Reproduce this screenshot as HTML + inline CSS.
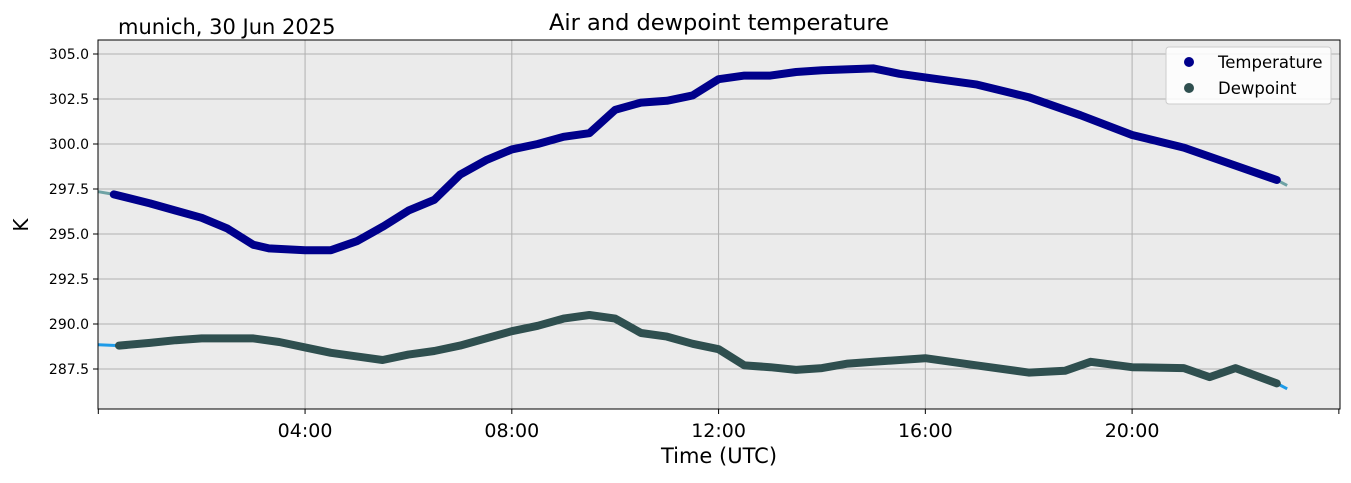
<!DOCTYPE html>
<html><head><meta charset="utf-8"><style>
body{margin:0;background:#fff;width:1351px;height:478px;overflow:hidden;font-family:"Liberation Sans","DejaVu Sans",sans-serif}
</style></head><body>
<svg id="chart" width="1351" height="478" xmlns="http://www.w3.org/2000/svg" font-family="DejaVu Sans, Liberation Sans, sans-serif">
<rect x="98" y="40" width="1242" height="369" fill="#ebebeb"/>
<g id="grid"></g>
<g id="series"></g>
<rect x="98" y="40" width="1242" height="369" fill="none" stroke="#000" stroke-width="1"/>
<g id="axes"></g>
<text x="719" y="30" font-size="22.5" text-anchor="middle">Air and dewpoint temperature</text>
<text x="118" y="34" font-size="21">munich, 30 Jun 2025</text>
<text x="719" y="463" font-size="21" text-anchor="middle">Time (UTC)</text>
<text x="28" y="225" font-size="20" text-anchor="middle" transform="rotate(-90 28 225)">K</text>
<g>
<rect x="1166" y="47" width="165" height="57" rx="3" fill="#fff" fill-opacity="0.85" stroke="#ccc"/>
<circle cx="1189" cy="62" r="5" fill="#00008b"/>
<text x="1218" y="68" font-size="16.5">Temperature</text>
<circle cx="1189" cy="88" r="5" fill="#2f4f4f"/>
<text x="1218" y="94" font-size="16.5">Dewpoint</text>
</g>
</svg>
<script>
const tempHours=[0.3,1,1.5,2,2.5,3,3.3,4,4.5,5,5.5,6,6.5,7,7.5,8,8.5,9,9.5,10,10.5,11,11.5,12,12.5,13,13.5,14,15,15.5,16,17,18,19,20,21,22,22.8];
const tempValues=[297.2,296.7,296.3,295.9,295.3,294.4,294.2,294.1,294.1,294.6,295.4,296.3,296.9,298.3,299.1,299.7,300.0,300.4,300.6,301.9,302.3,302.4,302.7,303.6,303.8,303.8,304.0,304.1,304.2,303.9,303.7,303.3,302.6,301.6,300.5,299.8,298.8,298.0];
const dewHours=[0.4,1,1.5,2,3,3.5,4,4.5,5,5.5,6,6.5,7,7.5,8,8.5,9,9.5,10,10.5,11,11.5,12,12.5,13,13.5,14,14.5,15,16,17,18,18.7,19.2,20,21,21.5,22,22.8];
const dewValues=[288.8,288.95,289.1,289.2,289.2,289.0,288.7,288.4,288.2,288.0,288.3,288.5,288.8,289.2,289.6,289.9,290.3,290.5,290.3,289.5,289.3,288.9,288.6,287.7,287.6,287.45,287.55,287.8,287.9,288.1,287.7,287.3,287.4,287.9,287.6,287.55,287.05,287.55,286.7];
const yTicks=[287.5,290.0,292.5,295.0,297.5,300.0,302.5,305.0];
const xTicks=[4,8,12,16,20];
const xTickLabels=["04:00","08:00","12:00","16:00","20:00"];
const X0=98.3,XPH=51.69,Y305=54,YPK=18;
const xs=h=>X0+h*XPH, ys=v=>Y305+(305-v)*YPK;
const NS="http://www.w3.org/2000/svg";
function mk(tag,attrs,parent){const e=document.createElementNS(NS,tag);for(const k in attrs)e.setAttribute(k,attrs[k]);parent.appendChild(e);return e;}
const grid=document.getElementById('grid'),axes=document.getElementById('axes'),series=document.getElementById('series');
yTicks.forEach(v=>{const y=ys(v);
 const g=mk('line',{x1:98,x2:1340,y1:y,y2:y,stroke:'#b0b0b0','stroke-width':1},grid);
 
 
 mk('line',{x1:93,x2:98,y1:y,y2:y,stroke:'#000'},axes);
 const t=mk('text',{x:89,y:y+5,'font-size':14,'text-anchor':'end'},axes);t.textContent=v.toFixed(1);
 
 
});
[0,...xTicks,24].forEach(h=>{mk('line',{x1:xs(h),x2:xs(h),y1:409,y2:414,stroke:'#000'},axes);});
xTicks.forEach((h,i)=>{const x=xs(h);
 const g=mk('line',{x1:x,x2:x,y1:40,y2:409,stroke:'#b0b0b0','stroke-width':1},grid);
 
 
 const t=mk('text',{x:x,y:437,'font-size':19,'text-anchor':'middle'},axes);t.textContent=xTickLabels[i];
 
 
});
function pts(H,V){return H.map((h,i)=>xs(h).toFixed(1)+','+ys(V[i]).toFixed(1)).join(' ');}
const rawT=mk('polyline',{points:xs(0)+','+ys(297.35)+' '+pts(tempHours,tempValues)+' '+xs(23)+','+ys(297.7),fill:'none',stroke:'#6fa3a5','stroke-width':3},series);


const rawD=mk('polyline',{points:xs(0)+','+ys(288.85)+' '+pts(dewHours,dewValues)+' '+xs(23)+','+ys(286.4),fill:'none',stroke:'#1e9be8','stroke-width':3},series);


const sT=mk('polyline',{points:pts(tempHours,tempValues),fill:'none',stroke:'#00008b','stroke-width':8,'stroke-linecap':'round','stroke-linejoin':'round'},series);


const sD=mk('polyline',{points:pts(dewHours,dewValues),fill:'none',stroke:'#2f4f4f','stroke-width':8,'stroke-linecap':'round','stroke-linejoin':'round'},series);


</script>
</body></html>
